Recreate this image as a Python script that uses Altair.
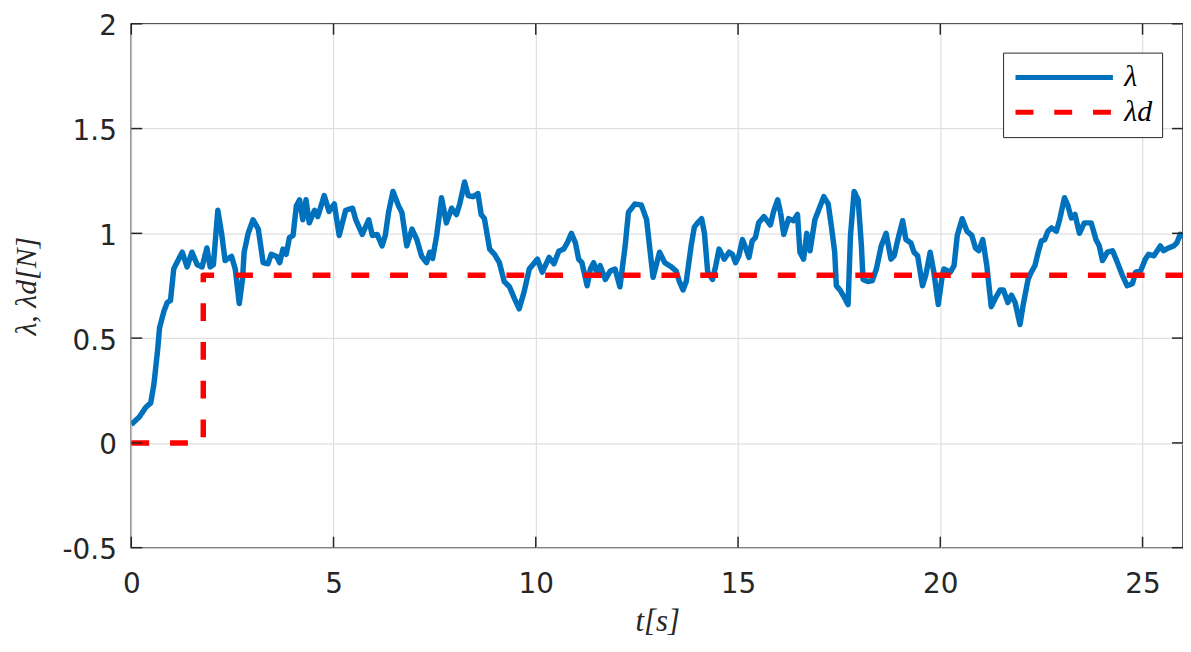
import altair as alt
import pandas as pd

# ---- data ----
t_vals = [0.00, 0.03, 0.20, 0.36, 0.48, 0.56, 0.65, 0.70, 0.81, 0.89, 0.97, 1.05, 1.18, 1.26, 1.38, 1.50,
          1.63, 1.75, 1.87, 1.95, 2.03, 2.14, 2.24, 2.32, 2.48, 2.57, 2.67, 2.75, 2.79, 2.89, 3.01, 3.14,
          3.26, 3.38, 3.46, 3.59, 3.67, 3.75, 3.83, 3.91, 4.00, 4.08, 4.16, 4.24, 4.32, 4.40, 4.53, 4.61,
          4.77, 4.89, 5.02, 5.14, 5.30, 5.47, 5.55, 5.71, 5.87, 5.96, 6.08, 6.20, 6.28, 6.36, 6.47, 6.61,
          6.69, 6.81, 6.94, 7.06, 7.18, 7.30, 7.38, 7.45, 7.55, 7.67, 7.79, 7.92, 8.04, 8.12, 8.24, 8.33,
          8.45, 8.57, 8.65, 8.73, 8.86, 8.98, 9.10, 9.22, 9.35, 9.47, 9.59, 9.71, 9.84, 10.04, 10.16, 10.33,
          10.45, 10.57, 10.69, 10.78, 10.88, 10.98, 11.06, 11.14, 11.27, 11.35, 11.43, 11.51, 11.59, 11.72,
          11.84, 11.96, 12.08, 12.21, 12.29, 12.45, 12.61, 12.74, 12.82, 12.90, 13.06, 13.19, 13.35, 13.47,
          13.55, 13.64, 13.72, 13.84, 13.92, 14.00, 14.10, 14.17, 14.25, 14.37, 14.45, 14.53, 14.66, 14.78,
          14.86, 14.94, 15.02, 15.11, 15.19, 15.27, 15.35, 15.43, 15.51, 15.64, 15.72, 15.80, 15.88, 15.98,
          16.05, 16.13, 16.25, 16.37, 16.47, 16.53, 16.62, 16.70, 16.78, 16.90, 17.03, 17.12, 17.23, 17.31,
          17.39, 17.43, 17.52, 17.64, 17.72, 17.78, 17.87, 17.97, 18.05, 18.09, 18.21, 18.32, 18.42, 18.54,
          18.66, 18.78, 18.86, 18.95, 19.07, 19.15, 19.27, 19.35, 19.44, 19.56, 19.64, 19.75, 19.84, 19.95,
          20.05, 20.09, 20.25, 20.34, 20.42, 20.54, 20.66, 20.78, 20.87, 20.95, 21.05, 21.15, 21.26, 21.36,
          21.48, 21.56, 21.67, 21.76, 21.85, 21.97, 22.05, 22.17, 22.25, 22.34, 22.42, 22.50, 22.58, 22.66,
          22.75, 22.87, 22.95, 23.07, 23.15, 23.24, 23.33, 23.44, 23.56, 23.73, 23.85, 23.93, 24.01, 24.13,
          24.26, 24.38, 24.50, 24.62, 24.75, 24.83, 24.95, 25.07, 25.15, 25.28, 25.44, 25.52, 25.64, 25.77,
          25.85, 25.93, 26.00]
lam_vals = [0.09, 0.093, 0.124, 0.17, 0.19, 0.28, 0.44, 0.55, 0.63, 0.67, 0.68, 0.83, 0.88, 0.91, 0.84, 0.91,
            0.85, 0.84, 0.93, 0.84, 0.85, 1.11, 0.99, 0.87, 0.89, 0.83, 0.665, 0.78, 0.91, 1.00, 1.065, 1.02,
            0.86, 0.855, 0.90, 0.89, 0.86, 0.925, 0.90, 0.98, 0.99, 1.13, 1.16, 1.065, 1.16, 1.05, 1.11, 1.08,
            1.18, 1.105, 1.14, 0.99, 1.11, 1.12, 1.065, 0.995, 1.065, 0.99, 0.995, 0.94, 0.99, 1.10, 1.20, 1.13,
            1.10, 0.94, 1.02, 0.97, 0.89, 0.86, 0.91, 0.88, 0.99, 1.17, 1.05, 1.12, 1.09, 1.14, 1.245, 1.18,
            1.175, 1.19, 1.09, 1.07, 0.925, 0.90, 0.86, 0.77, 0.745, 0.69, 0.64, 0.72, 0.83, 0.877, 0.815, 0.885,
            0.855, 0.915, 0.925, 0.955, 1.00, 0.955, 0.877, 0.86, 0.75, 0.83, 0.86, 0.81, 0.846, 0.78,
            0.82, 0.83, 0.745, 0.94, 1.10, 1.14, 1.135, 1.065, 0.925, 0.79, 0.91, 0.86, 0.84, 0.82,
            0.77, 0.73, 0.77, 0.94, 1.03, 1.05, 1.07, 1.00, 0.815, 0.78, 0.846, 0.925, 0.877, 0.91,
            0.90, 0.86, 0.893, 0.97, 0.93, 0.885, 0.964, 0.98, 1.05, 1.08, 1.06, 1.04, 1.105, 1.16,
            1.10, 0.995, 1.07, 1.06, 1.09, 0.91, 0.877, 1.00, 0.917, 1.065, 1.13, 1.175, 1.14, 1.03,
            0.91, 0.75, 0.73, 0.69, 0.66, 0.99, 1.20, 1.16, 0.94, 0.78, 0.77, 0.775, 0.83, 0.94,
            1.00, 0.877, 0.893, 0.97, 1.06, 0.97, 0.955, 0.91, 0.893, 0.75, 0.80, 0.91, 0.815, 0.66,
            0.80, 0.83, 0.815, 0.846, 0.99, 1.07, 1.01, 0.99, 0.93, 0.917, 0.97, 0.846, 0.65, 0.69,
            0.73, 0.73, 0.67, 0.705, 0.67, 0.565, 0.66, 0.78, 0.815, 0.846, 0.91, 0.964, 0.97, 1.01,
            1.026, 1.01, 1.065, 1.17, 1.135, 1.073, 1.09, 1.00, 1.05, 1.05, 0.97, 0.94, 0.87, 0.91,
            0.917, 0.86, 0.80, 0.75, 0.76, 0.815, 0.82, 0.877, 0.90, 0.893, 0.94, 0.917, 0.93, 0.94,
            0.955, 0.995, 0.98]

ref_t = [0.0, 1.78, 1.78, 26.0]
ref_vals = [0.0, 0.0, 0.8, 0.8]

series_names = ["λ", "λd"]
series_colors = ["#0072BD", "#FF0000"]
x_ticks = [0, 5, 10, 15, 20, 25]
y_ticks = [-0.5, 0, 0.5, 1, 1.5, 2]

W, H = 1058, 527
TICK = 11
AXC = "#262626"

rows = [{"t": t, "v": v, "series": series_names[0], "order": i} for i, (t, v) in enumerate(zip(t_vals, lam_vals))]
rows += [{"t": t, "v": v, "series": series_names[1], "order": i} for i, (t, v) in enumerate(zip(ref_t, ref_vals))]
df = pd.DataFrame(rows)
df_xt = pd.DataFrame({"x": x_ticks})
df_yt = pd.DataFrame({"y": y_ticks})

xscale = alt.Scale(domain=[0, 26], nice=False, zero=False)
yscale = alt.Scale(domain=[-0.5, 2], nice=False, zero=False)

lines = alt.Chart(df).mark_line(strokeWidth=5.5, strokeJoin="round", clip=True).encode(
    x=alt.X("t:Q", scale=xscale,
            axis=alt.Axis(values=x_ticks, title="t[s]", titleFont="Liberation Serif",
                          titleFontStyle="italic", titleFontWeight="normal", titleFontSize=31,
                          titleColor=AXC, titlePadding=8, labelPadding=23, labelFlush=False)),
    y=alt.Y("v:Q", scale=yscale,
            axis=alt.Axis(values=y_ticks, title="λ, λd[N]", titleFont="Liberation Serif",
                          titleFontStyle="italic", titleFontWeight="normal", titleFontSize=30,
                          titleColor=AXC, titlePadding=21, labelPadding=15, labelOffset=3,
                          labelFlush=False, labelExpr="datum.value")),
    color=alt.Color("series:N", scale=alt.Scale(domain=series_names, range=series_colors),
                    legend=alt.Legend(title=None, orient="none", legendX=877, legendY=29)),
    strokeDash=alt.StrokeDash("series:N", scale=alt.Scale(domain=series_names, range=[[1, 0], [18, 21]]),
                              legend=alt.Legend(title=None, orient="none", legendX=877, legendY=29)),
    order="order:Q",
)

tick_style = dict(color=AXC, strokeWidth=1.5)
xb = alt.Chart(df_xt).mark_rule(**tick_style).encode(x=alt.X("x:Q", scale=xscale), y=alt.value(H), y2=alt.value(H - TICK))
xt = alt.Chart(df_xt).mark_rule(**tick_style).encode(x=alt.X("x:Q", scale=xscale), y=alt.value(0), y2=alt.value(TICK))
yl = alt.Chart(df_yt).mark_rule(**tick_style).encode(y=alt.Y("y:Q", scale=yscale), x=alt.value(0), x2=alt.value(TICK))
yr = alt.Chart(df_yt).mark_rule(**tick_style).encode(y=alt.Y("y:Q", scale=yscale), x=alt.value(W), x2=alt.value(W - TICK))

chart = alt.layer(lines, xb, xt, yl, yr).properties(
    width=W, height=H,
    autosize=alt.AutoSizeParams(type="none"),
    padding={"left": 124, "top": 14, "right": 0, "bottom": 92},
).configure_view(
    stroke=AXC, strokeWidth=1.5
).configure_axis(
    domain=False, ticks=False, tickSize=0,
    grid=True, gridColor="#dfdfdf", gridWidth=1.2,
    labelFont="DejaVu Sans", labelFontSize=28, labelColor=AXC,
).configure_legend(
    fillColor="white", strokeColor=AXC, padding=10, cornerRadius=0,
    symbolType="stroke", symbolSize=9604, symbolStrokeWidth=5, clipHeight=30,
    labelFont="Liberation Serif", labelFontStyle="italic", labelFontSize=30, labelColor="black",
    labelOffset=9, rowPadding=5,
)

chart.save("out.html", embed_options={"renderer": "svg", "actions": False})
